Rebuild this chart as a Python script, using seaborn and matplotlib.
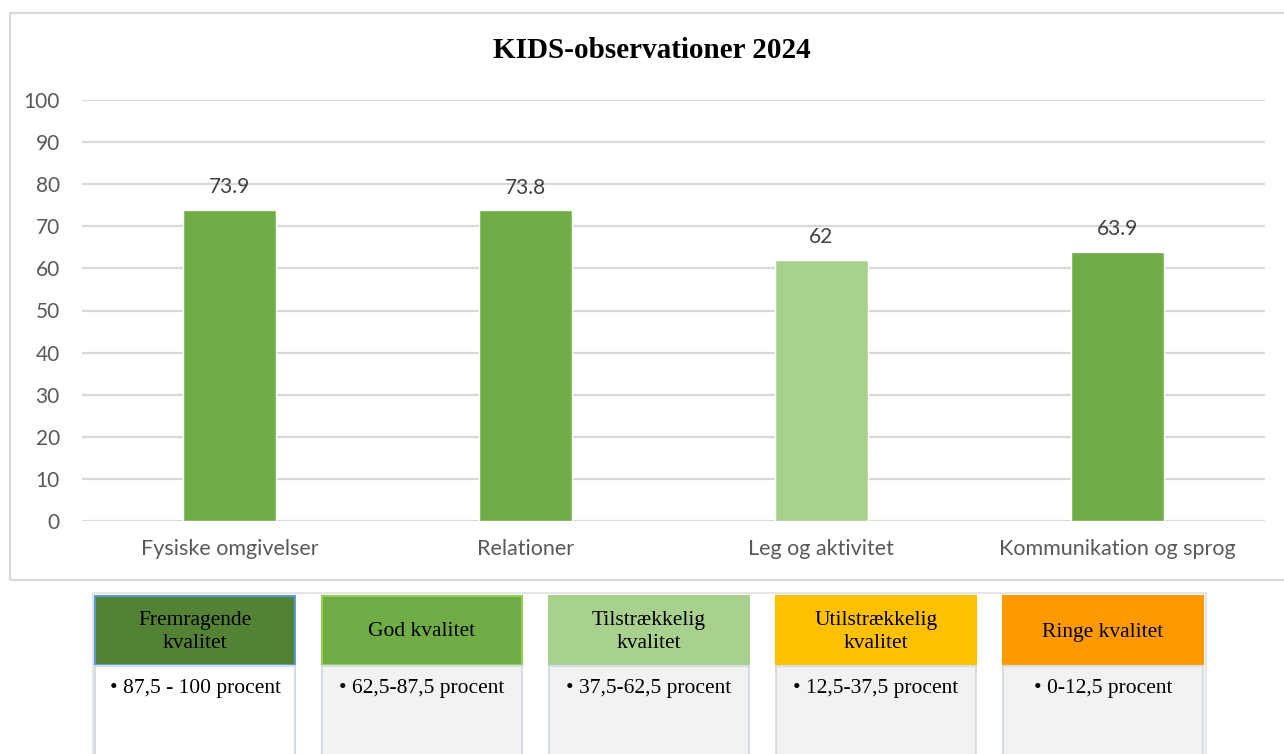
import matplotlib
matplotlib.use("Agg")
import matplotlib.pyplot as plt
from matplotlib.patches import Rectangle
import seaborn as sns

# ─── DATA ─────────────────────────────────────
categories = ["Fysiske omgivelser", "Relationer", "Leg og aktivitet", "Kommunikation og sprog"]
values = [73.9, 73.8, 62, 63.9]
bar_colors = ["#70AD47", "#70AD47", "#A9D18E", "#70AD47"]
y_ticks = [0, 10, 20, 30, 40, 50, 60, 70, 80, 90, 100]

legend_titles = ["Fremragende\nkvalitet", "God kvalitet", "Tilstrækkelig\nkvalitet",
                 "Utilstrækkelig\nkvalitet", "Ringe kvalitet"]
legend_ranges = ["• 87,5 - 100 procent", "• 62,5-87,5 procent", "• 37,5-62,5 procent",
                 "• 12,5-37,5 procent", "• 0-12,5 procent"]
legend_colors = ["#548235", "#70AD47", "#A9D18E", "#FFC000", "#FF9900"]
legend_body = ["#FFFFFF", "#F2F2F2", "#F2F2F2", "#F2F2F2", "#F2F2F2"]
legend_edges = ["#5B9BD5", "#92D050", "#A9D18E", "#FFC000", "#FF9900"]

W, H = 1284, 754


def px(x, y):
    # pixel (top-left origin) -> figure fraction
    return x / W, 1 - y / H


def main():
    sns.set_theme(style="white")
    plt.rcParams["font.family"] = ["Lato", "DejaVu Sans"]

    fig = plt.figure(figsize=(W / 100, H / 100), dpi=100)

    # chart frame
    fx, fy = px(10, 580)
    fig.patches.append(Rectangle((fx, fy), (1300 - 10) / W, (580 - 13) / H,
                                 transform=fig.transFigure, fill=False,
                                 edgecolor="#D9D9D9", linewidth=1.5))

    # ─── BAR CHART ─────────────────────────────
    left, bottom = px(82, 521)
    ax = fig.add_axes([left, bottom, (1265 - 82) / W, (521 - 100) / H])
    sns.barplot(x=categories, y=values, hue=categories, palette=bar_colors,
                width=0.315, legend=False, saturation=1, ax=ax, zorder=3)

    ax.set_ylim(0, 100)
    ax.set_xlim(-0.5, len(categories) - 0.5)
    ax.set_yticks(y_ticks)
    ax.yaxis.grid(True, color="#D9D9D9", linewidth=1.6, zorder=0)
    ax.set_axisbelow(True)
    for s in ax.spines.values():
        s.set_visible(False)
    ax.tick_params(axis="both", length=0, colors="#595959", labelsize=15)
    ax.tick_params(axis="x", labelsize=15.5, pad=13)
    ax.tick_params(axis="y", pad=16)
    ax.set_xlabel("")
    ax.set_ylabel("")

    for c in ax.containers:
        ax.bar_label(c, fmt="{:g}", padding=9, fontsize=15, color="#404040")

    tx, ty = px(652, 50)
    fig.text(tx, ty, "KIDS-observationer 2024", ha="center", va="center",
             fontsize=21, fontweight="bold", family="Liberation Serif", color="black")

    # ─── QUALITY LEGEND TABLE ──────────────────
    ox, oy = px(93, 760)
    fig.patches.append(Rectangle((ox, oy), (1206 - 93) / W, (760 - 593) / H,
                                 transform=fig.transFigure, fill=False,
                                 edgecolor="#E7E6E6", linewidth=1.5))
    for i, (title, rng) in enumerate(zip(legend_titles, legend_ranges)):
        x0 = 95 + i * 227
        hx, hy = px(x0, 665)
        fig.patches.append(Rectangle((hx, hy), 200 / W, (665 - 596) / H,
                                     transform=fig.transFigure,
                                     facecolor=legend_colors[i],
                                     edgecolor=legend_edges[i], linewidth=1.5))
        bx, by = px(x0, 770)
        fig.patches.append(Rectangle((bx, by), 200 / W, (770 - 666) / H,
                                     transform=fig.transFigure,
                                     facecolor=legend_body[i],
                                     edgecolor="#D6DCE5", linewidth=1.5))
        cx, cy = px(x0 + 100, 632)
        fig.text(cx, cy, title, ha="center", va="center", fontsize=15.5,
                 family="Liberation Serif", color="black", linespacing=1.25)
        rx, ry = px(x0 + 100, 688)
        fig.text(rx, ry, rng, ha="center", va="center", fontsize=15.5,
                 family="Liberation Serif", color="black")

    fig.savefig("out.png", dpi=100)


if __name__ == "__main__":
    main()
